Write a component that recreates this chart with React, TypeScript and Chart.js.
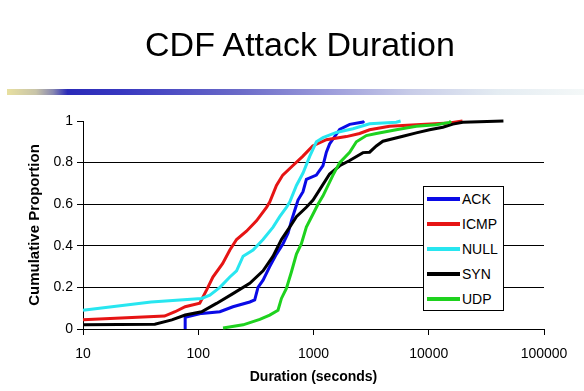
import React, { useEffect, useRef } from 'react';
import { Chart, registerables } from 'chart.js';

Chart.register(...registerables);

const chartTitle = 'CDF Attack Duration';
const xAxisTitle = 'Duration (seconds)';
const yAxisTitle = 'Cumulative Proportion';
const xTickValues = [10, 100, 1000, 10000, 100000];
const yTickValues = [0, 0.2, 0.4, 0.6, 0.8, 1];
const yTickLabels = ['0', '0.2', '0.4', '0.6', '0.8', '1'];

const seriesNames = ['ACK', 'ICMP', 'NULL', 'SYN', 'UDP'];
const seriesColors = ['#0a0ae6', '#e61414', '#28e6f0', '#000000', '#1ed21e'];

const ackX = [77, 77, 107, 154, 200, 280, 309, 330, 365, 417, 477, 544, 601, 643, 687, 734, 811, 867, 1059, 1209, 1293, 1380, 1687, 2060, 2690, 2750];
const ackY = [0, 0.056, 0.075, 0.083, 0.107, 0.13, 0.14, 0.2, 0.235, 0.3, 0.36, 0.41, 0.46, 0.52, 0.57, 0.62, 0.66, 0.72, 0.74, 0.785, 0.85, 0.89, 0.96, 0.984, 0.995, 1.0];

const icmpX = [10, 51, 63, 77, 103, 118, 134, 163, 188, 215, 262, 320, 391, 417, 477, 541, 660, 806, 984, 1293, 1928, 2513, 3069, 4571, 7795, 15136, 19630];
const icmpY = [0.044, 0.062, 0.083, 0.107, 0.124, 0.187, 0.25, 0.315, 0.38, 0.43, 0.47, 0.52, 0.585, 0.61, 0.69, 0.74, 0.785, 0.83, 0.88, 0.91, 0.925, 0.94, 0.958, 0.975, 0.982, 0.99, 1.0];

const nullX = [10, 39, 107, 126, 154, 188, 215, 245, 299, 365, 446, 509, 582, 622, 711, 811, 927, 1059, 1209, 1578, 2199, 3069, 5224, 5700];
const nullY = [0.09, 0.13, 0.147, 0.163, 0.2, 0.25, 0.28, 0.35, 0.38, 0.43, 0.49, 0.54, 0.585, 0.61, 0.69, 0.75, 0.83, 0.9, 0.92, 0.945, 0.963, 0.987, 0.994, 1.0];

const synX = [10, 42, 59, 77, 107, 144, 200, 280, 365, 446, 527, 622, 711, 867, 991, 1132, 1380, 1687, 2060, 2687, 3069, 3508, 4000, 5970, 7795, 10164, 13250, 16180, 19730, 44460];
const synY = [0.02, 0.023, 0.044, 0.067, 0.083, 0.123, 0.17, 0.22, 0.28, 0.35, 0.43, 0.49, 0.54, 0.585, 0.62, 0.67, 0.745, 0.785, 0.81, 0.848, 0.85, 0.88, 0.903, 0.927, 0.943, 0.958, 0.97, 0.985, 0.994, 1.0];

const udpX = [164, 245, 342, 417, 492, 527, 582, 643, 711, 785, 867, 991, 1094, 1209, 1476, 1687, 2060, 2355, 2873, 3508, 5224, 7795, 11620, 15136, 15600];
const udpY = [0.005, 0.02, 0.046, 0.067, 0.09, 0.147, 0.195, 0.274, 0.36, 0.41, 0.49, 0.553, 0.6, 0.64, 0.74, 0.8, 0.85, 0.9, 0.93, 0.94, 0.958, 0.975, 0.982, 0.993, 1.0];

const FONT = '"Liberation Sans", Arial, sans-serif';

function LegendRow(props: { name: string; color: string; index: number }) {
  const { name, color, index } = props;
  return (
    <div style={{ position: 'absolute', left: 0, top: 2 + 25 * index, height: 20, width: 79 }}>
      <div style={{ position: 'absolute', left: 3, top: 8, width: 33, height: 4, background: color }} />
      <div
        style={{
          position: 'absolute',
          left: 38,
          top: 0,
          height: 20,
          lineHeight: '20px',
          fontFamily: FONT,
          fontSize: 14,
          color: '#000',
          whiteSpace: 'nowrap',
        }}
      >
        {name}
      </div>
    </div>
  );
}

export default function App() {
  const canvasRef = useRef<HTMLCanvasElement>(null);

  useEffect(() => {
    const xs = [ackX, icmpX, nullX, synX, udpX];
    const ys = [ackY, icmpY, nullY, synY, udpY];
    const chart = new Chart(canvasRef.current as HTMLCanvasElement, {
      type: 'line',
      data: {
        datasets: seriesNames.map((name, i) => ({
          label: name,
          data: xs[i].map((x, j) => ({ x, y: ys[i][j] })),
          borderColor: seriesColors[i],
          backgroundColor: seriesColors[i],
          borderWidth: 3,
          pointRadius: 0,
          tension: 0,
          fill: false,
          clip: false,
          order: seriesNames.length - i,
        })),
      },
      options: {
        animation: false,
        responsive: false,
        maintainAspectRatio: false,
        devicePixelRatio: 1,
        events: [],
        layout: { padding: { top: 121, right: 40, left: 0, bottom: 0 } },
        plugins: {
          legend: { display: false },
          tooltip: { enabled: false },
          title: { display: false },
        },
        scales: {
          x: {
            type: 'logarithmic',
            min: 10,
            max: 100000,
            afterBuildTicks: (s: any) => {
              s.ticks = xTickValues.map((v) => ({ value: v }));
            },
            afterFit: (s: any) => {
              s.height = 62;
            },
            ticks: {
              callback: (v: any) => String(v),
              autoSkip: false,
              maxRotation: 0,
              minRotation: 0,
              color: '#000',
              padding: 11,
              font: { family: FONT, size: 14 },
            },
            grid: { drawOnChartArea: false, drawTicks: true, tickLength: 6, color: '#000', tickColor: '#000' },
            border: { color: '#000', width: 1 },
            title: {
              display: true,
              text: xAxisTitle,
              color: '#000',
              font: { family: FONT, size: 14, weight: 'bold' },
              padding: { top: 0, bottom: 5 },
            },
          },
          y: {
            min: 0,
            max: 1,
            afterBuildTicks: (s: any) => {
              s.ticks = yTickValues.map((v) => ({ value: v }));
            },
            afterFit: (s: any) => {
              s.width = 83;
            },
            ticks: {
              callback: (_v: any, i: number) => yTickLabels[i],
              color: '#000',
              padding: 4,
              font: { family: FONT, size: 14 },
            },
            grid: {
              color: (ctx: any) => (ctx.tick && ctx.tick.value === 1 ? 'rgba(0,0,0,0)' : '#000'),
              tickColor: '#000',
              tickLength: 6,
              lineWidth: 1,
            },
            border: { color: '#000', width: 1 },
            title: {
              display: true,
              text: yAxisTitle,
              color: '#000',
              font: { family: FONT, size: 15, weight: 'bold' },
              padding: { top: 26, bottom: 0 },
            },
          },
        },
      },
    } as any);
    return () => chart.destroy();
  }, []);

  return (
    <div style={{ position: 'fixed', left: 0, top: 0, width: 584, height: 391, background: '#fff', overflow: 'hidden' }}>
      <canvas ref={canvasRef} width={584} height={391} style={{ display: 'block', position: 'absolute', left: 0, top: 0 }} />
      <div
        style={{
          position: 'absolute',
          left: 0,
          top: 27,
          width: 600,
          textAlign: 'center',
          fontFamily: FONT,
          fontSize: 34,
          lineHeight: '34px',
          color: '#000',
        }}
      >
        {chartTitle}
      </div>
      <div
        style={{
          position: 'absolute',
          left: 7,
          top: 89,
          width: 577,
          height: 6,
          background:
            'linear-gradient(to right, #e8e0a0 0%, #c8c4a8 5%, #8888b0 8%, #2a2ab8 10.5%, #3838c0 20%, #6a6ac8 40%, #a0a0dc 57%, #c8cce8 70%, #e4ecf2 85%, #f4f8f8 100%)',
        }}
      />
      <div
        style={{
          position: 'absolute',
          left: 423,
          top: 186,
          width: 81,
          height: 125,
          boxSizing: 'border-box',
          border: '1px solid #000',
          background: '#fff',
        }}
      >
        {seriesNames.map((name, i) => (
          <LegendRow key={name} name={name} color={seriesColors[i]} index={i} />
        ))}
      </div>
    </div>
  );
}
